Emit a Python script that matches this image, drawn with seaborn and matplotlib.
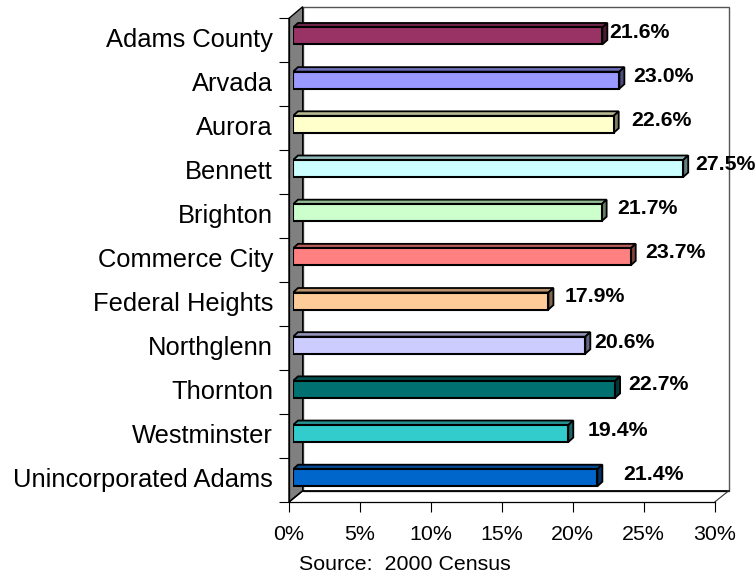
import matplotlib
matplotlib.use("Agg")
import matplotlib.pyplot as plt
import matplotlib.colors as mc
from matplotlib.patches import Polygon
from matplotlib.transforms import ScaledTranslation
import numpy as np
import pandas as pd
import seaborn as sns

places = ["Adams County", "Arvada", "Aurora", "Bennett", "Brighton", "Commerce City",
          "Federal Heights", "Northglenn", "Thornton", "Westminster", "Unincorporated Adams"]
bar_values = [21.8, 23.0, 22.6, 27.5, 21.75, 23.8, 18.0, 20.6, 22.7, 19.4, 21.45]
value_labels = ["21.6%", "23.0%", "22.6%", "27.5%", "21.7%", "23.7%", "17.9%", "20.6%", "22.7%", "19.4%", "21.4%"]
colors = ["#993366", "#9999FF", "#FFFFCC", "#CCFFFF", "#CCFFCC", "#FF8080",
          "#FFCC99", "#CCCCFF", "#007070", "#33CCCC", "#0066CC"]
xticks = [0, 5, 10, 15, 20, 25, 30]
xtick_labels = ["0%", "5%", "10%", "15%", "20%", "25%", "30%"]
source = "Source:  2000 Census"

# label anchor (left edge, vertical centre) in picture pixels
label_px = [(609, 32), (633, 77), (631, 120), (695, 165), (617, 208), (645, 253),
            (565, 296), (594, 342), (628, 384), (588, 430), (623, 474)]

W, H = 756, 578
FONT = "Liberation Sans"
sns.set_theme(style="white")
plt.rcParams["font.family"] = [FONT, "DejaVu Sans"]
fig = plt.figure(figsize=(W / 100, H / 100), dpi=100, facecolor="white")


def rect(l, t, r, b):
    return [l / W, 1 - b / H, (r - l) / W, (b - t) / H]


# background plane drawn in picture pixels
bg = fig.add_axes([0, 0, 1, 1], zorder=0)
bg.set_xlim(0, W)
bg.set_ylim(H, 0)
bg.axis("off")
L, R, T, B = 289, 714.7, 18.3, 502
BL, BR, BT, BB = 302.7, 728.7, 6.7, 490.8
bg.add_patch(Polygon([(BL, BT), (BR, BT), (BR, BB), (BL, BB)], fc="white", ec="#555555", lw=1.0))
bg.add_patch(Polygon([(L, T), (BL, BT), (BL, BB), (L, B)], fc="#808080", ec="black", lw=1.0))
bg.plot([BL, BR], [BB, BB], color="black", lw=1.3)
bg.plot([L, BL], [B, BB], color="black", lw=1.0)
bg.plot([R, BR], [B, BB], color="#333333", lw=0.8)

# front axis lines and ticks
fr = fig.add_axes(rect(L, T, R, B), zorder=1)
fr.patch.set_alpha(0)
fr.set_xlim(0, 30)
fr.set_ylim(len(places) - 0.5, -0.5)
sns.despine(ax=fr)
for s in ("left", "bottom"):
    fr.spines[s].set_linewidth(0.9)
    fr.spines[s].set_color("black")
fr.set_xticks(xticks)
fr.set_xticklabels(xtick_labels, fontsize=15.4, color="black", family=FONT)
fr.tick_params(axis="x", length=7.5, width=0.8, color="black", pad=9, bottom=True)
fr.set_yticks(np.arange(len(places) + 1) - 0.5)
fr.set_yticklabels([])
fr.tick_params(axis="y", which="major", length=7.5, width=0.8, color="black", left=True)
fr.set_yticks(np.arange(len(places)), minor=True)
fr.set_yticklabels(places, minor=True, fontsize=18.4, color="black", family=FONT)
fr.tick_params(axis="y", which="minor", length=0, pad=11.5)
fr.grid(False)
shift = ScaledTranslation(0, 2.5 / 100, fig.dpi_scale_trans)
for lab in fr.get_yticklabels(minor=True):
    lab.set_transform(lab.get_transform() + shift)

# bars, offset from the axis by the chart's depth
ab = fig.add_axes(rect(293, 13.9, 293 + 30 * 14.19, 499.8), zorder=2)
ab.patch.set_alpha(0)
df = pd.DataFrame({"place": places, "value": bar_values})
sns.barplot(data=df, y="place", x="value", hue="place", palette=colors, dodge=False,
            legend=False, width=0.385, saturation=1, edgecolor="black", linewidth=1.5, ax=ab)
ab.set_xlim(0, 30)
ab.set_ylim(len(places) - 0.5, -0.5)
ab.axis("off")

dx = 5 / 14.19
dy = 4.5 / 44.17
for patch, col in zip(list(ab.patches), colors):
    x0, x1 = patch.get_x(), patch.get_x() + patch.get_width()
    y0, y1 = sorted((patch.get_y(), patch.get_y() + patch.get_height()))
    rgb = np.array(mc.to_rgb(col))
    ab.add_patch(Polygon([(x0, y0), (x0 + dx, y0 - dy), (x1 + dx, y0 - dy), (x1, y0)],
                         fc=rgb * 0.72, ec="black", lw=1.3, zorder=patch.get_zorder() - 0.1))
    ab.add_patch(Polygon([(x1, y0), (x1 + dx, y0 - dy), (x1 + dx, y1 - dy), (x1, y1)],
                         fc=rgb * 0.5, ec="black", lw=1.3, zorder=patch.get_zorder() - 0.1))

for (px, py), lab in zip(label_px, value_labels):
    ab.text(px, py, lab, transform=bg.transData, fontsize=15.3, fontweight="bold", color="black",
            ha="left", va="center", clip_on=False, zorder=6, family=FONT)

bg.text(404.5, 565, source, fontsize=15.4, color="black", ha="center", va="center", family=FONT)

fig.savefig("out.png", dpi=100, facecolor="white")
